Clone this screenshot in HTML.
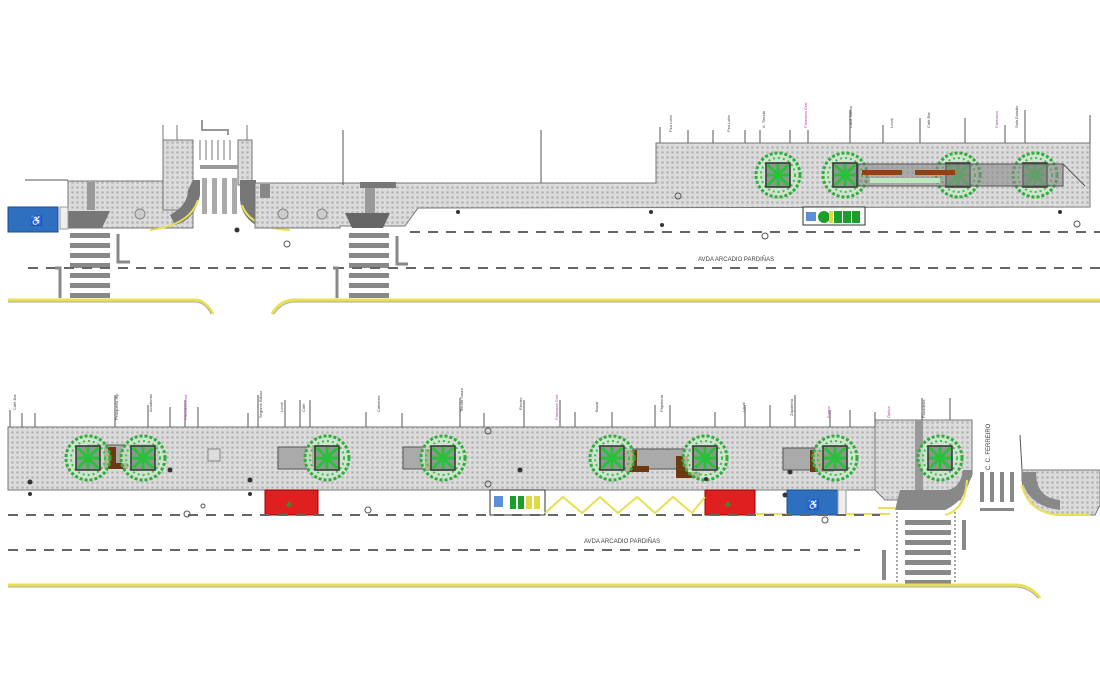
<!DOCTYPE html>
<html><head><meta charset="utf-8"><style>
html,body{margin:0;padding:0;background:#fff;width:1100px;height:700px;overflow:hidden}
svg{display:block}
text{font-family:"Liberation Sans",sans-serif}
</style></head><body>
<svg width="1100" height="700" viewBox="0 0 1100 700" xmlns="http://www.w3.org/2000/svg">
<defs>
<pattern id="pv" width="5" height="5" patternUnits="userSpaceOnUse">
<rect width="5" height="5" fill="#dcdcdc"/><circle cx="2.5" cy="2.5" r="1.4" fill="#b8b8b8"/>
</pattern>
<g id="tree">
<circle r="22" fill="#cfe8cf" fill-opacity=".7" stroke="#2fae3a" stroke-width="3" stroke-dasharray="3 2"/>
<circle r="17" fill="none" stroke="#3fbf4a" stroke-width="2" stroke-dasharray="2 3"/>
<circle r="12" fill="none" stroke="#3fbf4a" stroke-width="1.5" stroke-dasharray="2 3"/>
<rect x="-12" y="-12" width="24" height="24" fill="#8a9a8a" stroke="#333" stroke-width="1.5"/>
<path d="M-10 -10L10 10M10 -10L-10 10M0 -11V11M-11 0H11" stroke="#27c23a" stroke-width="3"/>
</g>
<g id="bench"><rect x="0" y="0" width="12" height="22" fill="#6b3a12"/><rect x="0" y="16" width="24" height="6" fill="#6b3a12"/></g>
<g id="stripes">
<rect x="0" y="0" width="40" height="5" fill="#888"/><rect x="0" y="10" width="40" height="5" fill="#888"/>
<rect x="0" y="20" width="40" height="5" fill="#888"/><rect x="0" y="30" width="40" height="5" fill="#888"/>
<rect x="0" y="40" width="40" height="5" fill="#888"/><rect x="0" y="50" width="40" height="5" fill="#888"/>
<rect x="0" y="60" width="40" height="5" fill="#888"/>
</g>
</defs>

<!-- ================= TOP SECTION ================= -->
<line x1="25" y1="180" x2="68" y2="180" stroke="#555"/>
<rect x="68" y="181" width="125" height="47" fill="url(#pv)" stroke="#777"/>
<rect x="87" y="182" width="8" height="28" fill="#999"/>
<polygon points="68,211 110,211 102,228 68,228" fill="#777"/>
<rect x="60" y="207" width="8" height="22" fill="#eee" stroke="#999"/>
<rect x="8" y="207" width="50" height="25" fill="#2f6fbf" stroke="#1a4d8f"/>
<text x="30" y="224" font-size="10" fill="#9cc">♿</text>
<rect x="163" y="140" width="30" height="70" fill="url(#pv)" stroke="#777"/>
<line x1="163" y1="125" x2="163" y2="140" stroke="#777"/><line x1="177" y1="125" x2="177" y2="140" stroke="#777"/>
<rect x="238" y="140" width="14" height="45" fill="url(#pv)" stroke="#777"/>
<line x1="247" y1="125" x2="247" y2="140" stroke="#777"/>
<path d="M193 180 L200 180 L200 195 Q195 220 175 225 L170 215 Q188 205 188 190 Z" fill="#777"/>
<path d="M240 180 L256 180 L256 200 Q260 215 270 220 L262 228 Q242 220 240 200 Z" fill="#777"/>
<path d="M150 230 Q190 225 198 200" fill="none" stroke="#e8e050" stroke-width="2"/>
<path d="M242 205 Q250 228 290 230" fill="none" stroke="#e8e050" stroke-width="2"/>
<g fill="#aaa"><rect x="202" y="178" width="5" height="36"/><rect x="212" y="178" width="5" height="36"/><rect x="222" y="178" width="5" height="36"/><rect x="232" y="178" width="5" height="36"/></g>
<rect x="200" y="165" width="38" height="4" fill="#999"/>
<path d="M200 160 V140 M206 160 V140 M212 160 V140 M218 160 V140 M224 160 V140 M230 160 V140" stroke="#bbb" stroke-width="2"/>
<path d="M202 120 V130 H228 V135" fill="none" stroke="#999" stroke-width="2"/>
<polygon points="255,183 656,183 656,143 1090,143 1090,207 418,208 405,226 340,226 340,228 255,228" fill="url(#pv)" stroke="#777"/>
<rect x="260" y="184" width="10" height="14" fill="#888"/>
<rect x="365" y="184" width="10" height="30" fill="#999"/>
<rect x="360" y="182" width="36" height="6" fill="#777"/>
<polygon points="345,213 390,213 383,228 352,228" fill="#666"/>
<circle cx="283" cy="214" r="5" fill="#ccc" stroke="#888"/><circle cx="322" cy="214" r="5" fill="#ccc" stroke="#888"/>
<circle cx="140" cy="214" r="5" fill="#ccc" stroke="#888"/>
<line x1="343" y1="130" x2="343" y2="185" stroke="#555"/>
<line x1="541" y1="130" x2="541" y2="183" stroke="#555"/>
<use href="#tree" x="778" y="175"/><use href="#tree" x="845" y="175"/>
<use href="#tree" x="958" y="175"/><use href="#tree" x="1035" y="175"/>
<rect x="858" y="164" width="205" height="22" fill="#888" fill-opacity=".6" stroke="#555"/>
<rect x="862" y="170" width="40" height="5" fill="#8b4513"/><rect x="915" y="170" width="40" height="5" fill="#8b4513"/>
<rect x="870" y="178" width="70" height="5" fill="#bfe6bf"/>
<line x1="1063" y1="164" x2="1085" y2="186" stroke="#555"/>
<rect x="803" y="207" width="62" height="18" fill="#fff" stroke="#333"/>
<rect x="806" y="212" width="10" height="9" fill="#5b8ed6"/>
<g fill="#1d9e2a"><circle cx="824" cy="217" r="6"/><rect x="834" y="211" width="8" height="12"/><rect x="843" y="211" width="8" height="12"/><rect x="852" y="211" width="8" height="12"/></g>
<rect x="829" y="211" width="4" height="12" fill="#e0d84a"/>
<g stroke="#555">
<line x1="660" y1="127" x2="660" y2="143"/><line x1="688" y1="130" x2="688" y2="143"/><line x1="713" y1="130" x2="713" y2="143"/>
<line x1="745" y1="130" x2="745" y2="143"/><line x1="760" y1="130" x2="760" y2="143"/><line x1="790" y1="130" x2="790" y2="143"/>
<line x1="808" y1="130" x2="808" y2="143"/><line x1="850" y1="110" x2="850" y2="143"/><line x1="883" y1="125" x2="883" y2="143"/>
<line x1="920" y1="118" x2="920" y2="143"/><line x1="965" y1="118" x2="965" y2="143"/><line x1="1005" y1="125" x2="1005" y2="143"/>
<line x1="1025" y1="110" x2="1025" y2="143"/><line x1="1090" y1="115" x2="1090" y2="143"/>
</g>
<g font-size="4" fill="#444">
<text transform="translate(672,132) rotate(-90)">Pza Lobo</text>
<text transform="translate(730,132) rotate(-90)">Pza Lobo</text>
<text transform="translate(765,128) rotate(-90)">A. Tienda</text>
<text transform="translate(807,128) rotate(-90)" fill="#b03cb0">Farmacia Gral</text>
<text transform="translate(852,128) rotate(-90)">Casa Saleta</text>
<text transform="translate(893,128) rotate(-90)">Local</text>
<text transform="translate(930,128) rotate(-90)">Café Bar</text>
<text transform="translate(998,128) rotate(-90)" fill="#b03cb0">Farmacia</text>
<text transform="translate(1018,128) rotate(-90)">Sala Estudio</text>
</g>
<g fill="#333"><circle cx="458" cy="212" r="2"/><circle cx="651" cy="212" r="2"/><circle cx="1060" cy="212" r="2"/><circle cx="237" cy="230" r="2.5"/><circle cx="662" cy="225" r="2"/></g>
<g fill="none" stroke="#555"><circle cx="287" cy="244" r="3"/><circle cx="765" cy="236" r="3"/><circle cx="1077" cy="224" r="3"/><circle cx="678" cy="196" r="3"/></g>
<use href="#stripes" x="70" y="233"/>
<use href="#stripes" x="349" y="233"/>
<line x1="410" y1="232" x2="1100" y2="232" stroke="#666" stroke-width="2" stroke-dasharray="10 8"/>
<line x1="28" y1="268" x2="1100" y2="268" stroke="#666" stroke-width="2" stroke-dasharray="10 8"/>
<path d="M118 234 V262 H130" fill="none" stroke="#888" stroke-width="3"/>
<path d="M55 268 H60 V298" fill="none" stroke="#888" stroke-width="3"/>
<path d="M333 268 H337 V298" fill="none" stroke="#888" stroke-width="3"/>
<path d="M397 236 V264 H408" fill="none" stroke="#888" stroke-width="3"/>
<text x="698" y="261" font-size="6" fill="#444">AVDA ARCADIO PARDIÑAS</text>
<path d="M8 300 H195 Q205 300 213 314" fill="none" stroke="#e8e050" stroke-width="3"/>
<path d="M8 302 H195 Q205 302 211 314" fill="none" stroke="#aaa" stroke-width="1"/>
<path d="M272 314 Q280 300 295 300 H1100" fill="none" stroke="#e8e050" stroke-width="3"/>
<path d="M274 314 Q282 302 295 302 H1100" fill="none" stroke="#aaa" stroke-width="1"/>

<!-- ================= BOTTOM SECTION ================= -->
<rect x="8" y="427" width="870" height="63" fill="url(#pv)" stroke="#777"/>
<polygon points="875,420 972,420 972,475 960,500 885,500 875,490" fill="url(#pv)" stroke="#777"/>
<rect x="915" y="420" width="8" height="70" fill="#999"/>
<path d="M900 490 H945 Q960 490 963 470 L972 470 Q968 500 945 510 H895 Z" fill="#888"/>
<path d="M878 508 H895" stroke="#e8e050" stroke-width="2"/>
<path d="M967 480 Q965 510 945 515" fill="none" stroke="#e8e050" stroke-width="2"/>
<rect x="88" y="445" width="70" height="22" fill="#aaa" stroke="#555"/>
<rect x="278" y="447" width="60" height="22" fill="#aaa" stroke="#555"/>
<rect x="403" y="447" width="45" height="22" fill="#aaa" stroke="#555"/>
<rect x="612" y="449" width="96" height="20" fill="#aaa" stroke="#555"/>
<rect x="783" y="448" width="50" height="22" fill="#aaa" stroke="#555"/>
<use href="#bench" x="104" y="447"/>
<use href="#bench" x="312" y="445"/>
<use href="#bench" x="425" y="449"/>
<use href="#bench" x="625" y="450"/>
<use href="#bench" x="676" y="456"/>
<use href="#bench" x="810" y="450"/>
<use href="#tree" x="88" y="458"/><use href="#tree" x="143" y="458"/>
<use href="#tree" x="327" y="458"/><use href="#tree" x="443" y="458"/>
<use href="#tree" x="612" y="458"/><use href="#tree" x="705" y="458"/>
<use href="#tree" x="835" y="458"/><use href="#tree" x="940" y="458"/>
<rect x="208" y="449" width="12" height="12" fill="#ddd" stroke="#888"/>
<g stroke="#555">
<line x1="10" y1="410" x2="10" y2="427"/><line x1="22" y1="413" x2="22" y2="427"/><line x1="35" y1="413" x2="35" y2="427"/>
<line x1="115" y1="395" x2="115" y2="427"/><line x1="148" y1="405" x2="148" y2="427"/><line x1="170" y1="407" x2="170" y2="427"/>
<line x1="185" y1="400" x2="185" y2="427"/><line x1="198" y1="407" x2="198" y2="427"/><line x1="248" y1="413" x2="248" y2="427"/>
<line x1="258" y1="395" x2="258" y2="427"/><line x1="285" y1="400" x2="285" y2="427"/><line x1="300" y1="400" x2="300" y2="427"/>
<line x1="310" y1="400" x2="310" y2="427"/><line x1="366" y1="412" x2="366" y2="427"/><line x1="402" y1="413" x2="402" y2="427"/>
<line x1="460" y1="398" x2="460" y2="427"/><line x1="484" y1="413" x2="484" y2="427"/><line x1="524" y1="400" x2="524" y2="427"/>
<line x1="560" y1="400" x2="560" y2="427"/><line x1="575" y1="412" x2="575" y2="427"/><line x1="612" y1="412" x2="612" y2="427"/>
<line x1="655" y1="405" x2="655" y2="427"/><line x1="670" y1="405" x2="670" y2="427"/><line x1="715" y1="412" x2="715" y2="427"/>
<line x1="745" y1="405" x2="745" y2="427"/><line x1="770" y1="405" x2="770" y2="427"/><line x1="795" y1="395" x2="795" y2="427"/>
<line x1="830" y1="410" x2="830" y2="427"/><line x1="850" y1="410" x2="850" y2="427"/><line x1="875" y1="412" x2="875" y2="427"/>
<line x1="922" y1="398" x2="922" y2="420"/><line x1="950" y1="398" x2="950" y2="420"/>
</g>
<g font-size="4" fill="#444">
<text transform="translate(16,410) rotate(-90)">Café Bar</text>
<text transform="translate(118,420) rotate(-90)">Peluquería Hip</text>
<text transform="translate(152,412) rotate(-90)">Academia</text>
<text transform="translate(187,420) rotate(-90)" fill="#b03cb0">Farmacia Gral</text>
<text transform="translate(262,418) rotate(-90)">Seguros Bilbao</text>
<text transform="translate(283,412) rotate(-90)">Local</text>
<text transform="translate(305,412) rotate(-90)">Café</text>
<text transform="translate(380,412) rotate(-90)">Cafetería</text>
<text transform="translate(463,412) rotate(-90)">Tienda Saura</text>
<text transform="translate(522,410) rotate(-90)">Electro</text>
<text transform="translate(558,420) rotate(-90)" fill="#b03cb0">Farmacia Gral</text>
<text transform="translate(598,412) rotate(-90)">Bazar</text>
<text transform="translate(663,412) rotate(-90)">Papelería</text>
<text transform="translate(745,412) rotate(-90)">Local</text>
<text transform="translate(793,416) rotate(-90)">Zapatería</text>
<text transform="translate(830,418) rotate(-90)" fill="#b03cb0">Farma</text>
<text transform="translate(890,418) rotate(-90)" fill="#b03cb0">Óptica</text>
<text transform="translate(925,418) rotate(-90)">Panadería</text>
</g>
<g fill="#333"><circle cx="30" cy="482" r="2.5"/><circle cx="30" cy="494" r="2"/><circle cx="250" cy="480" r="2.5"/><circle cx="250" cy="494" r="2"/><circle cx="170" cy="470" r="2.5"/><circle cx="520" cy="470" r="2.5"/><circle cx="706" cy="479" r="2"/><circle cx="790" cy="472" r="2.5"/><circle cx="785" cy="495" r="2.5"/></g>
<g fill="none" stroke="#555"><circle cx="187" cy="514" r="3"/><circle cx="368" cy="510" r="3"/><circle cx="488" cy="431" r="3"/><circle cx="488" cy="484" r="3"/><circle cx="825" cy="520" r="3"/><circle cx="203" cy="506" r="2"/></g>
<rect x="265" y="490" width="53" height="25" fill="#e02020" stroke="#900"/>
<text x="286" y="507" font-size="9" fill="#2a9a2a">♣</text>
<rect x="705" y="490" width="50" height="25" fill="#e02020" stroke="#900"/>
<text x="725" y="507" font-size="9" fill="#2a9a2a">♣</text>
<rect x="787" y="490" width="51" height="25" fill="#2f6fbf" stroke="#1a4d8f"/>
<rect x="838" y="490" width="8" height="25" fill="#eee" stroke="#999"/>
<text x="807" y="508" font-size="10" fill="#9cc">♿</text>
<rect x="490" y="490" width="55" height="25" fill="#fff" stroke="#333"/>
<rect x="494" y="496" width="9" height="11" fill="#5b8ed6"/>
<g fill="#1d9e2a"><rect x="510" y="496" width="6" height="13"/><rect x="518" y="496" width="6" height="13"/></g>
<g fill="#e0d84a"><rect x="526" y="496" width="6" height="13"/><rect x="534" y="496" width="6" height="13"/></g>
<polyline points="545,513 563,497 582,513 600,497 618,513 637,497 655,513 673,497 692,513 705,497" fill="none" stroke="#e8e050" stroke-width="2"/>
<line x1="755" y1="514" x2="787" y2="514" stroke="#e8e050" stroke-width="2"/>
<line x1="846" y1="514" x2="890" y2="514" stroke="#e8e050" stroke-width="2"/>
<line x1="8" y1="515" x2="880" y2="515" stroke="#666" stroke-width="2" stroke-dasharray="10 8"/>
<line x1="8" y1="550" x2="860" y2="550" stroke="#666" stroke-width="2" stroke-dasharray="10 8"/>
<text x="584" y="543" font-size="6" fill="#444">AVDA ARCADIO PARDIÑAS</text>
<rect x="882" y="550" width="4" height="30" fill="#888"/>
<g fill="#888">
<rect x="905" y="520" width="46" height="5"/><rect x="905" y="530" width="46" height="5"/><rect x="905" y="540" width="46" height="5"/>
<rect x="905" y="550" width="46" height="5"/><rect x="905" y="560" width="46" height="5"/><rect x="905" y="570" width="46" height="5"/>
<rect x="905" y="580" width="46" height="5"/></g>
<line x1="897" y1="512" x2="897" y2="588" stroke="#555" stroke-dasharray="2 2"/>
<line x1="955" y1="512" x2="955" y2="588" stroke="#555" stroke-dasharray="2 2"/>
<rect x="962" y="520" width="4" height="30" fill="#888"/>
<g fill="#888"><rect x="980" y="472" width="4" height="30"/><rect x="990" y="472" width="4" height="30"/><rect x="1000" y="472" width="4" height="30"/><rect x="1010" y="472" width="4" height="30"/><rect x="980" y="508" width="34" height="3"/></g>
<text transform="translate(990,470) rotate(-90)" font-size="6" fill="#333">C. C. FERREIRO</text>
<line x1="1020" y1="435" x2="1022" y2="470" stroke="#555"/>
<path d="M1022 470 H1100 V505 L1095 515 H1055 Q1025 510 1022 480 Z" fill="url(#pv)" stroke="#777"/>
<path d="M1022 472 H1036 Q1036 498 1060 500 V510 Q1028 506 1022 480 Z" fill="#888"/>
<path d="M1022 485 Q1028 512 1058 515 H1090" fill="none" stroke="#e8e050" stroke-width="2"/>
<path d="M8 585 H1015 Q1030 585 1040 598" fill="none" stroke="#e8e050" stroke-width="3"/>
<path d="M8 587 H1015 Q1028 587 1038 598" fill="none" stroke="#aaa"/>
</svg>
</body></html>
